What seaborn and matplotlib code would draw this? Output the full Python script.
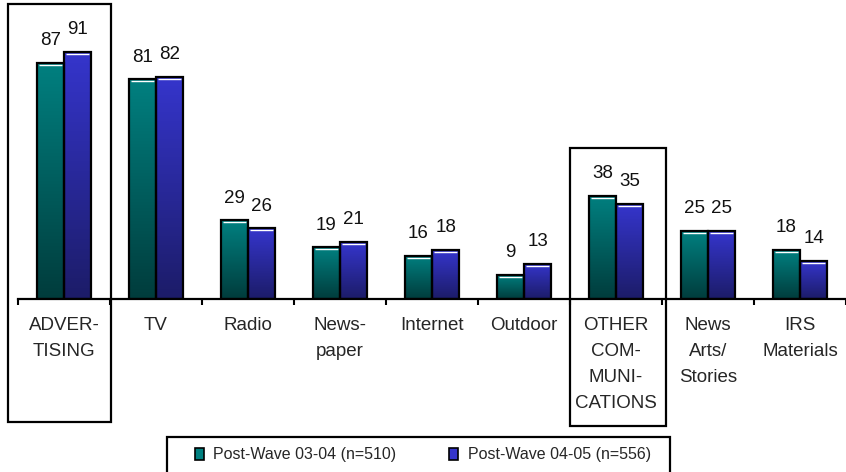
import numpy as np
import pandas as pd
import matplotlib
matplotlib.use("Agg")
import matplotlib.pyplot as plt
import matplotlib.patches as mpatches
import matplotlib.transforms as mtransforms
from matplotlib.colors import to_rgb
import seaborn as sns

categories = ["ADVER-\nTISING", "TV", "Radio", "News-\npaper", "Internet",
              "Outdoor", "OTHER\nCOM-\nMUNI-\nCATIONS", "News\nArts/\nStories",
              "IRS\nMaterials"]
series_names = ["Post-Wave 03-04 (n=510)", "Post-Wave 04-05 (n=556)"]
wave_0304 = [87, 81, 29, 19, 16, 9, 38, 25, 18]
wave_0405 = [91, 82, 26, 21, 18, 13, 35, 25, 14]

# gradient colours (top, bottom) per series
grad_colors = [("#008080", "#003c3c"), ("#3535cc", "#1c1c68")]

df = pd.DataFrame({
    "category": categories * 2,
    "series": [series_names[0]] * len(categories) + [series_names[1]] * len(categories),
    "value": wave_0304 + wave_0405,
})

sns.set_theme(style="white")
plt.rcParams["font.family"] = ["Liberation Sans", "DejaVu Sans"]

W, H = 846, 472
fig = plt.figure(figsize=(W / 100, H / 100), dpi=100)
base_px = 299
ax = fig.add_axes([18 / W, (H - base_px) / H, 828 / W, base_px / H])

sns.barplot(data=df, x="category", y="value", hue="series", order=categories,
            hue_order=series_names, width=0.59, ax=ax, legend=False,
            edgecolor="black", linewidth=1.6, saturation=1)

ymax = base_px / 2.713
for container, (top, bot) in zip(ax.containers, grad_colors):
    t, b = np.array(to_rgb(top)), np.array(to_rgb(bot))
    ramp = np.linspace(0, 1, 128)[:, None, None]
    img = b + (t - b) * ramp  # bottom -> top
    for bar in container:
        x, w, h = bar.get_x(), bar.get_width(), bar.get_height()
        bar.set_facecolor("none")
        bar.set_zorder(3)
        im = ax.imshow(img, extent=[x, x + w, 0, h], origin="lower",
                       aspect="auto", zorder=2, interpolation="bilinear")
        im.set_clip_path(bar)
        # thin highlight under the top edge
        ax.plot([x + 0.02, x + w - 0.02], [h - 0.75, h - 0.75], color="white",
                lw=1.0, zorder=2.5, solid_capstyle="butt")
        ax.annotate(f"{h:.0f}", (x + w / 2, h), xytext=(0, 16),
                    textcoords="offset points", ha="center", va="center",
                    fontsize=13.5, color="#111111")

ax.set_xlim(-0.5, len(categories) - 0.5)
ax.set_ylim(0, ymax)
ax.set_xlabel("")
ax.set_ylabel("")
ax.set_yticks([])

# category labels at centres, tick marks at category boundaries
ax.set_xticks(range(len(categories)))
ax.set_xticklabels(categories, fontsize=13.5, linespacing=1.68, va="top")
ax.tick_params(axis="x", which="major", length=0, pad=13)
ax.set_xticks(np.arange(-0.5, len(categories), 1.0), minor=True)
ax.tick_params(axis="x", which="minor", length=4, width=1.5, color="black",
               direction="out", bottom=True)
for lab in ax.get_xticklabels():
    lab.set_multialignment("center")

for s in ["top", "left", "right"]:
    ax.spines[s].set_visible(False)
ax.spines["bottom"].set_color("black")
ax.spines["bottom"].set_linewidth(1.6)
ax.spines["bottom"].set_zorder(4)

# highlight frames around the two summary categories
trans = mtransforms.blended_transform_factory(ax.transData, ax.transAxes)
for idx, left, right, top_px, bot_px in [(0, -0.609, 0.511, 4, 422),
                                          (6, -0.5, 0.543, 148, 426)]:
    y0 = (base_px - bot_px) / base_px
    y1 = (base_px - top_px) / base_px
    ax.add_patch(mpatches.Rectangle((idx + left, y0), right - left, y1 - y0,
                                    transform=trans, fill=False, edgecolor="black",
                                    linewidth=1.6, clip_on=False, zorder=5))

# legend: frame runs off the bottom edge of the figure
fig.add_artist(mpatches.Rectangle((167 / W, -10 / H), 503 / W, (472 - 437 + 10) / H,
                                  transform=fig.transFigure, fill=False,
                                  edgecolor="black", linewidth=1.6))
handles = [mpatches.Patch(facecolor=grad_colors[i][0], edgecolor="black",
                          linewidth=1.2, label=series_names[i]) for i in range(2)]
leg = fig.legend(handles=handles, ncol=2, loc="center left",
                 bbox_to_anchor=(195 / W, 1 - 455 / H), frameon=False,
                 fontsize=11.5, handlelength=0.55, handleheight=0.75,
                 handletextpad=0.6, columnspacing=3.3, borderpad=0,
                 borderaxespad=0)

fig.savefig("out.png", dpi=100, facecolor="white")
